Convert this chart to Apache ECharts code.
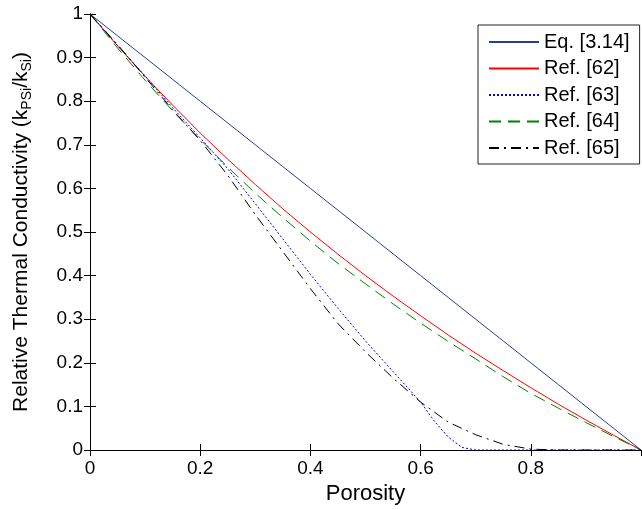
<!DOCTYPE html>
<html>
<head>
<meta charset="utf-8">
<script src="https://cdn.jsdelivr.net/npm/echarts@6/dist/echarts.min.js"></script>
<style>
  html, body { margin: 0; padding: 0; background: #fff; }
  #chart { width: 642px; height: 510px; }
</style>
</head>
<body>
<div id="chart"></div>
<script>
// porosity grid (x) shared by the smooth curves
var porosity = [0, 0.05, 0.1, 0.15, 0.2, 0.25, 0.3, 0.35, 0.4, 0.45, 0.5,
                0.55, 0.6, 0.65, 0.7, 0.75, 0.8, 0.85, 0.9, 0.95, 1];

var eq314 = [1, 0.95, 0.9, 0.85, 0.8, 0.75, 0.7, 0.65, 0.6, 0.55, 0.5,
             0.45, 0.4, 0.35, 0.3, 0.25, 0.2, 0.15, 0.1, 0.05, 0];
var ref62 = [1, 0.927, 0.857, 0.791, 0.727, 0.667, 0.609, 0.553, 0.5, 0.449, 0.4,
             0.353, 0.308, 0.264, 0.222, 0.182, 0.143, 0.105, 0.069, 0.034, 0];
var ref64 = [1, 0.922, 0.848, 0.778, 0.712, 0.649, 0.589, 0.533, 0.479, 0.428, 0.381,
             0.335, 0.291, 0.249, 0.209, 0.168, 0.13, 0.096, 0.063, 0.031, 0];

// the two steep curves need a finer grid around the knee
var porosity63 = [0, 0.05, 0.1, 0.15, 0.2, 0.25, 0.3, 0.35, 0.4, 0.45, 0.5,
                  0.55, 0.6, 0.625, 0.65, 0.675, 0.7, 0.8, 0.9, 1];
var ref63 = [1, 0.928, 0.858, 0.785, 0.716, 0.645, 0.565, 0.484, 0.403, 0.325, 0.25,
             0.18, 0.11, 0.066, 0.03, 0.006, 0, 0, 0, 0];

var porosity65 = [0, 0.05, 0.1, 0.15, 0.2, 0.25, 0.3, 0.35, 0.4, 0.45, 0.5,
                  0.55, 0.6, 0.65, 0.7, 0.75, 0.8, 0.85, 0.9, 1];
var ref65 = [1, 0.93, 0.855, 0.78, 0.71, 0.63, 0.54, 0.455, 0.37, 0.29, 0.225,
             0.165, 0.11, 0.064, 0.035, 0.013, 0.002, 0, 0, 0];

var names = ['Eq. [3.14]', 'Ref. [62]', 'Ref. [63]', 'Ref. [64]', 'Ref. [65]'];

function pairs(xs, ys) {
    return xs.map(function(x, i) { return [x, ys[i]]; });
}

var chart = echarts.init(document.getElementById('chart'));

var axisLine = { show: true, lineStyle: { color: '#000', width: 1 } };
var tickIn = { show: true, inside: true, length: 6, lineStyle: { color: '#000' } };
var font = 'Liberation Sans, Arial, sans-serif';

var option = {
    animation: false,
    backgroundColor: '#fff',
    grid: { left: 90, right: 1, top: 14, bottom: 56 },
    legend: {
        orient: 'vertical',
        left: 478,
        top: 25,
        data: names,
        itemWidth: 50,
        itemHeight: 10,
        itemGap: 6.5,
        padding: [7, 10, 6, 10],
        borderColor: '#222',
        borderWidth: 1,
        backgroundColor: '#fff',
        borderRadius: 0,
        // hide the marker dot, keep only the line sample
        itemStyle: { color: 'rgba(0,0,0,0)', borderWidth: 0, opacity: 0 },
        textStyle: { fontFamily: font, fontSize: 20, color: '#000', lineHeight: 20 }
    },
    xAxis: [
        {
            type: 'value', min: 0, max: 1, interval: 0.2,
            name: 'Porosity', nameLocation: 'middle', nameGap: 33,
            nameTextStyle: { fontFamily: font, fontSize: 22, color: '#000' },
            axisLine: axisLine, axisTick: tickIn,
            axisLabel: { fontFamily: font, fontSize: 19, color: '#000', margin: 9, showMaxLabel: false },
            splitLine: { show: false }
        },
        {
            type: 'value', min: 0, max: 1, interval: 0.2, position: 'top',
            axisLine: axisLine, axisTick: tickIn,
            axisLabel: { show: false }, splitLine: { show: false }
        }
    ],
    yAxis: [
        {
            type: 'value', min: 0, max: 1, interval: 0.1,
            name: '{n|Relative Thermal Conductivity (k}{s|PSi}{n|/k}{s|Si}{n|)}',
            nameLocation: 'middle', nameGap: 56,
            nameTextStyle: {
                fontFamily: font, fontSize: 21, color: '#000',
                rich: {
                    n: { fontFamily: font, fontSize: 21, lineHeight: 26, color: '#000' },
                    s: { fontFamily: font, fontSize: 14, lineHeight: 14, verticalAlign: 'bottom', color: '#000' }
                }
            },
            axisLine: axisLine, axisTick: tickIn,
            axisLabel: { fontFamily: font, fontSize: 19, color: '#000', margin: 7 },
            splitLine: { show: false }
        },
        {
            type: 'value', min: 0, max: 1, interval: 0.1, position: 'right',
            axisLine: axisLine, axisTick: tickIn,
            axisLabel: { show: false }, splitLine: { show: false }
        }
    ],
    series: [
        {
            name: names[0], type: 'line', symbol: 'none', data: pairs(porosity, eq314),
            lineStyle: { color: '#23418f', width: 1 }, itemStyle: { color: '#23418f' }
        },
        {
            name: names[1], type: 'line', symbol: 'none', data: pairs(porosity, ref62),
            lineStyle: { color: '#ff0000', width: 1 }, itemStyle: { color: '#ff0000' }
        },
        {
            name: names[2], type: 'line', symbol: 'none', data: pairs(porosity63, ref63),
            lineStyle: { color: '#0000ff', width: 1, type: [2, 2] }, itemStyle: { color: '#0000ff' }
        },
        {
            name: names[3], type: 'line', symbol: 'none', data: pairs(porosity, ref64),
            lineStyle: { color: '#008000', width: 1, type: [12, 7] }, itemStyle: { color: '#008000' }
        },
        {
            name: names[4], type: 'line', symbol: 'none', data: pairs(porosity65, ref65),
            lineStyle: { color: '#000', width: 1, type: [10, 5, 2, 5] }, itemStyle: { color: '#000' }
        }
    ]
};

chart.setOption(option);
</script>
</body>
</html>
